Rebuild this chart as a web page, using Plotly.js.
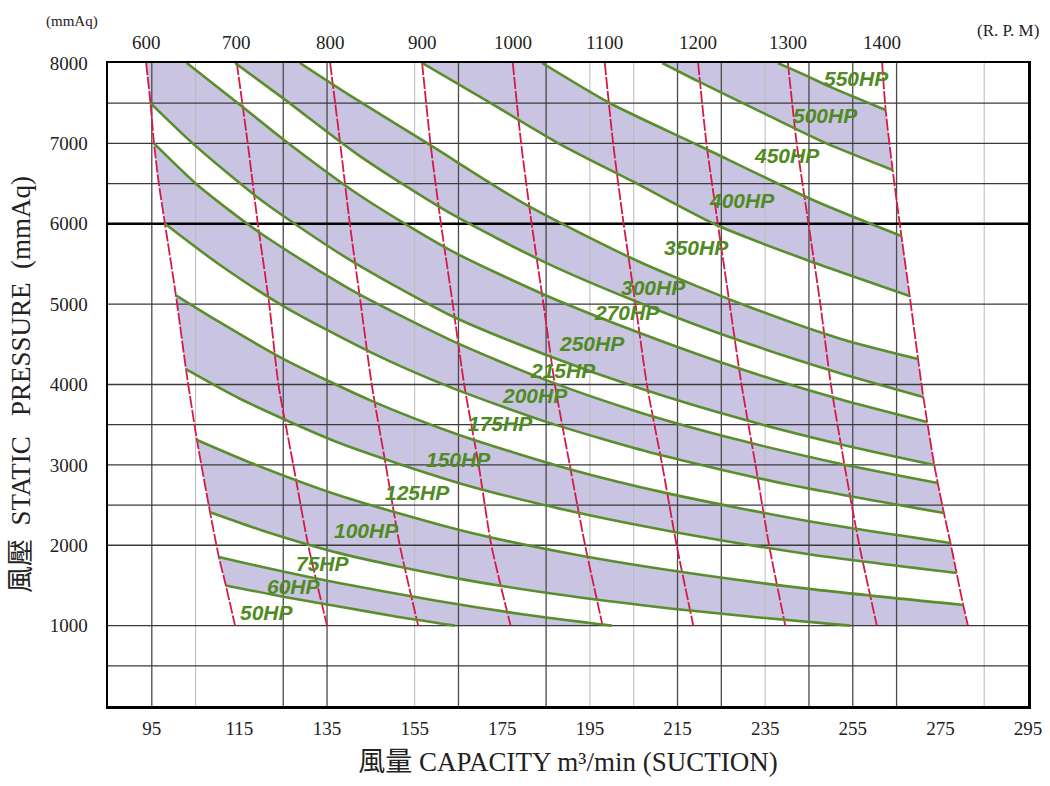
<!DOCTYPE html>
<html><head><meta charset="utf-8">
<script src="https://cdn.plot.ly/plotly-3.0.1.min.js"></script>
<style>html,body{margin:0;padding:0;background:#fff}#chart{width:1050px;height:786px}</style>
</head><body><div id="chart"></div>
<script>
// ---------- axis ticks ----------
const capacityTicks = [95,115,135,155,175,195,215,235,255,275,295];
const pressureTicks = [1000,2000,3000,4000,5000,6000,7000,8000];
const gridDarkX  = [95,125,135,165,185,215,225,245,255,265];
const gridLightX = [105,155,195,205,235,285];
const gridY      = [500,1000,2000,2500,3000,3500,4000,5000,6500,7000,7500];
const gridBoldY  = [6000];

// ---------- constant R.P.M. lines ----------
const rpmLabels = ['600','700','800','900','1000','1100','1200','1300','1400'];
const rpmY      = [8000,7000,6000,5000,4000,3000,2000,1000];
const rpm600X   = [93.7,94.7,95.5,96.6,98.0,100.5,102.8,105.3,108.3,110.3,111.9,114.0];
const rpm600Y   = [8000,7500,7000,6500,6000,5110,4190,3310,2410,1855,1500,1000];
const rpm700X   = [114.4,116.9,119.2,121.8,123.9,127.3,130.7,135.0];
const rpm800X   = [135.7,138.0,140.2,142.7,145.2,148.4,151.6,155.8];
const rpm900X   = [156.7,158.6,161.0,163.7,166.3,169.6,172.5,176.9];
const rpm1000X  = [177.4,179.3,181.7,184.4,187.0,190.4,193.9,197.9];
const rpm1100X  = [198.4,200.3,202.7,205.4,208.0,211.5,214.8,218.6];
const rpm1200X  = [219.7,221.6,224.2,226.9,229.6,232.8,235.9,239.6];
const rpm1300X  = [240.2,242.2,244.9,247.6,250.0,253.1,256.5,260.5];
const rpm1400X  = [261.7,262.5,264.1,266.1,268.0,269.9,271.1,272.0,273.6,274.4,275.8,277.3,278.7,280.2,281.3];
const rpm1400Y  = [8000,7415,6669,5848,5101,4317,3845,3533,2998,2775,2401,2028,1655,1257,1000];

// ---------- constant horsepower curves ----------
const hp60X  = [111.9,125.0,138.0,150.0,164.2];
const hp60Y  = [1500,1360,1236,1120,1000];
const hp75X  = [110.3,120.0,138.0,160.0,180.0,200.0];
const hp75Y  = [1855,1733,1527,1309,1139,1000];
const hp100X = [108.3,120.0,138.0,165.0,190.0,213.3,235.0,254.4];
const hp100Y = [2410,2188,1899,1585,1371,1214,1094,1000];
const hp125X = [105.3,118.0,138.0,165.0,190.0,213.3,245.0,280.2];
const hp125Y = [3310,3017,2616,2194,1900,1688,1457,1257];
const hp150X = [102.8,115.0,138.0,165.0,190.0,213.3,245.0,278.7];
const hp150Y = [4190,3826,3268,2776,2432,2175,1888,1655];
const hp175X = [100.5,110.0,125.0,145.0,165.0,190.0,213.3,245.0,277.3];
const hp175Y = [5110,4791,4320,3800,3376,2953,2639,2298,2028];
const hp200X = [98.0,110.0,125.0,145.0,163.1,185.0,210.0,240.0,275.8];
const hp200Y = [6000,5509,4976,4400,3967,3535,3138,2758,2401];
const hp215X = [95.5,105.9,120.0,140.0,163.1,185.0,206.4,229.3,252.1,274.4];
const hp215Y = [7000,6459,5875,5193,4556,4054,3653,3306,3015,2775];
const hp250X = [94.7,104.2,120.0,140.0,163.1,185.0,206.4,229.3,252.1,273.6];
const hp250Y = [7500,7006,6292,5557,4862,4368,3953,3576,3257,2998];
const hp270X = [103.0,115.1,125.4,142.5,163.1,185.0,206.4,229.3,252.1,272.0];
const hp270Y = [8000,7480,7033,6351,5671,5108,4641,4195,3816,3533];
const hp300X = [114.0,125.0,142.5,163.1,185.0,206.4,229.3,252.1,271.1];
const hp300Y = [8000,7560,6842,6131,5514,5015,4544,4141,3845];
const hp350X = [128.8,140.2,158.5,180.0,206.4,230.8,252.1,269.9];
const hp350Y = [8000,7597,6980,6250,5524,4977,4570,4317];
const hp400X = [156.7,171.0,187.8,204.9,223.9,244.5,268.0];
const hp400Y = [8000,7544,7001,6523,5984,5549,5101];
const hp450X = [184.1,199.6,220.1,245.9,266.1];
const hp450Y = [8000,7499,6967,6296,5848];
const hp500X = [211.5,220.0,234.5,249.0,264.1];
const hp500Y = [8000,7765,7380,7000,6669];
const hp550X = [237.9,244.0,250.4,256.5,262.5];
const hp550Y = [8000,7852,7690,7550,7415];

// ---------- horsepower labels ----------
const hpLabelText = ['550HP','500HP','450HP','400HP','350HP','300HP','270HP','250HP','215HP','200HP','175HP','150HP','125HP','100HP','75HP','60HP','50HP'];
const hpLabelX    = [255.9,248.7,239.9,229.8,219.4,209.6,203.4,195.5,188.9,182.5,174.6,165.1,155.6,144.1,134.1,127.5,121.4];
const hpLabelY    = [7810,7353,6847,6287,5707,5209,4898,4504,4172,3869,3517,3073,2659,2181,1775,1484,1166];

// ---------- build ----------
const GREEN = '#5a8d2b', RED = '#d41a46', FILL = '#c9c4e2';
const SERIF = 'Liberation Serif, DejaVu Serif, Noto Sans CJK TC, serif';

const rpmLinesX = [rpm700X,rpm800X,rpm900X,rpm1000X,rpm1100X,rpm1200X,rpm1300X];
const hpCurves = [
  [hp60X,hp60Y],[hp75X,hp75Y],[hp100X,hp100Y],[hp125X,hp125Y],[hp150X,hp150Y],[hp175X,hp175Y],
  [hp200X,hp200Y],[hp215X,hp215Y],[hp250X,hp250Y],[hp270X,hp270Y],[hp300X,hp300Y],[hp350X,hp350Y],
  [hp400X,hp400Y],[hp450X,hp450Y],[hp500X,hp500Y],[hp550X,hp550Y]
];
const bands = [[0,1],[2,3],[4,5],[6,7],[8,9],[10,11],[12,13],[14,15]];

function bandPolygon(a, b) {
  const [ax, ay] = a, [bx, by] = b;
  const xs = ax.slice(), ys = ay.slice();
  const aEnd = ay[ay.length-1], bEnd = by[by.length-1];
  if (!(aEnd === 1000 && bEnd === 1000)) {
    rpm1400Y.map((y,i)=>i).filter(i => rpm1400Y[i] >= aEnd && rpm1400Y[i] <= bEnd)
      .sort((i,j) => rpm1400Y[i]-rpm1400Y[j])
      .forEach(i => { xs.push(rpm1400X[i]); ys.push(rpm1400Y[i]); });
  }
  for (let i = bx.length-1; i >= 0; i--) { xs.push(bx[i]); ys.push(by[i]); }
  const aStart = ay[0], bStart = by[0];
  if (!(aStart === 8000 && bStart === 8000)) {
    rpm600Y.map((y,i)=>i).filter(i => rpm600Y[i] <= bStart && rpm600Y[i] >= aStart)
      .sort((i,j) => rpm600Y[j]-rpm600Y[i])
      .forEach(i => { xs.push(rpm600X[i]); ys.push(rpm600Y[i]); });
  }
  xs.push(ax[0]); ys.push(ay[0]);
  return {x: xs, y: ys};
}

const traces = [];
bands.forEach(([i,j]) => {
  const p = bandPolygon(hpCurves[i], hpCurves[j]);
  traces.push({type:'scatter', mode:'lines', x:p.x, y:p.y, fill:'toself', fillcolor:FILL,
               line:{width:0, color:FILL}, hoverinfo:'skip', showlegend:false});
});

function gridTrace(vals, vertical, color, width) {
  const x = [], y = [];
  vals.forEach(v => {
    if (vertical) { x.push(v, v, null); y.push(0, 8000, null); }
    else { x.push(85, 295, null); y.push(v, v, null); }
  });
  return {type:'scatter', mode:'lines', x, y, line:{color, width}, hoverinfo:'skip', showlegend:false};
}
traces.push(gridTrace(gridLightX, true, '#b9b9b9', 1));
traces.push(gridTrace(gridDarkX, true, '#4a4a4a', 1.3));
traces.push(gridTrace(gridY, false, '#3a3a3a', 1.3));
traces.push(gridTrace(gridBoldY, false, '#000000', 2.6));

const redStyle = {color:RED, width:1.8, dash:'12px,2px', shape:'spline', smoothing:0.6};
traces.push({type:'scatter', mode:'lines', name:'600 RPM', x:rpm600X, y:rpm600Y, line:redStyle, hoverinfo:'skip', showlegend:false});
rpmLinesX.forEach((xs, k) => traces.push({type:'scatter', mode:'lines', name:rpmLabels[k+1]+' RPM',
  x:xs, y:rpmY, line:redStyle, hoverinfo:'skip', showlegend:false}));
traces.push({type:'scatter', mode:'lines', name:'1400 RPM', x:rpm1400X, y:rpm1400Y, line:redStyle, hoverinfo:'skip', showlegend:false});

hpCurves.forEach(([xs, ys]) => traces.push({type:'scatter', mode:'lines', x:xs, y:ys,
  line:{color:GREEN, width:2.6, shape:'spline', smoothing:0.7}, hoverinfo:'skip', showlegend:false}));

const rpmTopX = [rpm600X[0], ...rpmLinesX.map(a => a[0]), rpm1400X[0]];
const annotations = [];
rpmLabels.forEach((t, k) => annotations.push({x:rpmTopX[k], y:8000, xref:'x', yref:'y', text:t, showarrow:false,
  yshift:21, xanchor:'center', yanchor:'middle', font:{family:SERIF, size:19, color:'#222'}}));
hpLabelText.forEach((t, k) => annotations.push({x:hpLabelX[k], y:hpLabelY[k], xref:'x', yref:'y',
  text:'<b><i>'+t+'</i></b>', showarrow:false, xanchor:'center', yanchor:'middle',
  font:{family:'Liberation Sans, Arial, sans-serif', size:21, color:'#4f8a22'}}));
annotations.push({xref:'paper', yref:'paper', x:-0.0391, y:1.0653, xanchor:'center', yanchor:'middle',
  text:'(mmAq)', showarrow:false, font:{family:SERIF, size:15, color:'#222'}});
annotations.push({xref:'paper', yref:'paper', x:0.978, y:1.0498, xanchor:'center', yanchor:'middle',
  text:'(R. P. M)', showarrow:false, font:{family:SERIF, size:17, color:'#222'}});

const layout = {
  width:1050, height:786,
  margin:{l:108, r:22, t:63, b:80},
  paper_bgcolor:'#ffffff', plot_bgcolor:'#ffffff',
  showlegend:false,
  xaxis:{range:[85,295], tickvals:capacityTicks, showgrid:false, zeroline:false,
         showline:true, mirror:true, linecolor:'#000', linewidth:2.5,
         ticks:'outside', ticklen:4, tickcolor:'rgba(0,0,0,0)',
         tickfont:{family:SERIF, size:19, color:'#222'},
         title:{text:'風量 CAPACITY m³/min (SUCTION)', font:{family:SERIF, size:27, color:'#222'}, standoff:14}},
  yaxis:{range:[0,8000], tickvals:pressureTicks, showgrid:false, zeroline:false,
         showline:true, mirror:true, linecolor:'#000', linewidth:2.5,
         ticks:'outside', ticklen:14, tickcolor:'rgba(0,0,0,0)',
         tickfont:{family:SERIF, size:19, color:'#222'},
         title:{text:'風壓&nbsp;&nbsp;STATIC&nbsp;&nbsp;&nbsp;PRESSURE&nbsp;&nbsp;(mmAq)', font:{family:SERIF, size:27, color:'#222'}, standoff:12}},
  annotations
};
Plotly.newPlot('chart', traces, layout, {staticPlot:true, displayModeBar:false});
</script></body></html>
